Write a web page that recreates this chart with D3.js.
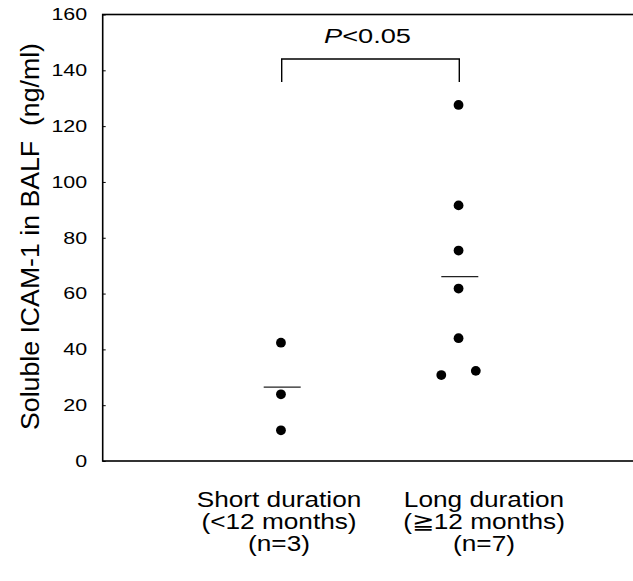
<!DOCTYPE html>
<html>
<head>
<meta charset="utf-8">
<script src="https://cdn.jsdelivr.net/npm/d3@7"></script>
<style>
  body { margin: 0; background: #fff; }
  svg { display: block; font-family: "Liberation Sans", Arial, sans-serif; }
</style>
</head>
<body>
<div id="chart"></div>
<script>
// groups and their labels (3 lines each)
var groups = ["Short", "Long"];
var groupLabels = [
  ["Short duration", "(<12 months)", "(n=3)"],
  ["Long duration", "(\u226712 months)", "(n=7)"]
];
// measured values (ng/ml), dodge = side-by-side offset for overlapping dots
var shortValues = [42.4, 23.9, 11.0];
var shortDodge  = [0, 0, 0];
var longValues  = [127.6, 91.6, 75.4, 61.8, 44.0, 30.8, 32.3];
var longDodge   = [0, 0, 0, 0, 0, -1, 1];
var groupMeans  = [26.5, 66.1];
var yTicks = [0, 20, 40, 60, 80, 100, 120, 140, 160];
var pLabel = "0.05";

var width = 633, height = 581;
var margin = {top: 14.5, left: 102.7, bottom: 120};

var svg = d3.select("#chart").append("svg")
  .attr("width", width)
  .attr("height", height);

var y = d3.scaleLinear().domain([0, 160]).range([height - margin.bottom, margin.top]);
var x = d3.scalePoint().domain(groups).range([281.7, 459.3]);
var dodge = d3.scaleLinear().domain([-1, 1]).range([-18, 16.5]);

// frame: left, top, bottom (right side runs off the picture)
svg.append("rect")
  .attr("x", margin.left)
  .attr("y", y(160))
  .attr("width", width + 5 - margin.left)
  .attr("height", y(0) - y(160))
  .attr("fill", "none")
  .attr("stroke", "#000")
  .attr("stroke-width", 1.6);

// y axis, ticks pointing in
var yAxis = svg.append("g")
  .attr("transform", "translate(" + margin.left + ",0)")
  .call(d3.axisLeft(y).tickValues(yTicks).tickSize(-3).tickPadding(0));
yAxis.select(".domain").remove();
yAxis.selectAll("line").attr("stroke", "#000").attr("stroke-width", 1);
// the original digits are set wide: stretch them horizontally
yAxis.selectAll("text")
  .attr("x", 0)
  .attr("fill", "#000")
  .attr("font-size", 16.5)
  .attr("font-family", "Liberation Sans, Arial, sans-serif")
  .attr("transform", "translate(-15.5,0) scale(1.3,1)");

// y title
svg.append("text")
  .attr("transform", "translate(39," + 236.5 + ") rotate(-90)")
  .attr("text-anchor", "middle")
  .style("font-size", "25px")
  .attr("textLength", 387)
  .attr("lengthAdjust", "spacingAndGlyphs")
  .text("Soluble ICAM-1 in BALF\u00a0\u00a0(ng/ml)");

// dots
var dots = [];
shortValues.forEach(function(v, i){ dots.push({g: "Short", v: v, d: shortDodge[i]}); });
longValues.forEach(function(v, i){ dots.push({g: "Long", v: v, d: longDodge[i]}); });

svg.append("g").selectAll("circle")
  .data(dots).enter()
  .append("circle")
  .attr("cx", function(d){ return x(d.g) + dodge(d.d); })
  .attr("cy", function(d){ return y(d.v); })
  .attr("r", 4.9)
  .attr("fill", "#000");

// mean bars
svg.append("g").selectAll("line")
  .data(groups).enter()
  .append("line")
  .attr("x1", function(d){ return x(d) - 18; })
  .attr("x2", function(d){ return x(d) + 19; })
  .attr("y1", function(d, i){ return y(groupMeans[i]); })
  .attr("y2", function(d, i){ return y(groupMeans[i]); })
  .attr("stroke", "#222")
  .attr("stroke-width", 1.2);

// significance bracket
var bTop = 59, bBottom = 82;
svg.append("path")
  .attr("d", "M" + x("Short") + "," + bBottom + "V" + bTop + "H" + x("Long") + "V" + bBottom)
  .attr("fill", "none")
  .attr("stroke", "#000")
  .attr("stroke-width", 1.4);

var pText = svg.append("text")
  .attr("x", (x("Short") + x("Long")) / 2 - 3)
  .attr("y", 42.5)
  .attr("text-anchor", "middle")
  .style("font-size", "20px");
pText.append("tspan").style("font-style", "italic").text("P");
pText.append("tspan").text("<" + pLabel);
pText.attr("textLength", 87).attr("lengthAdjust", "spacingAndGlyphs");

// group labels
var labelX = [279, 484];
var lineY = [506.5, 528.5, 551];
groups.forEach(function(g, gi){
  groupLabels[gi].forEach(function(t, li){
    svg.append("text")
      .attr("text-anchor", "middle")
      .attr("transform", "translate(" + labelX[gi] + "," + lineY[li] + ") scale(1.22,1)")
      .style("font-size", "21.5px")
      .text(t);
  });
});
</script>
</body>
</html>
